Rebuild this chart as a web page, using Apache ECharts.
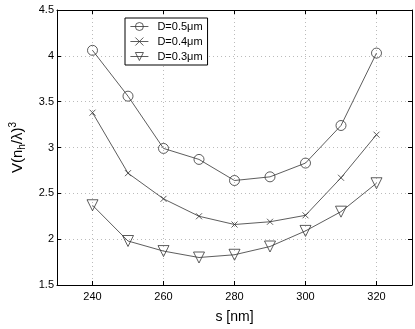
<!DOCTYPE html>
<html><head><meta charset="utf-8">
<script src="https://cdn.jsdelivr.net/npm/echarts@6/dist/echarts.min.js"></script>
<style>html,body{margin:0;padding:0;background:#fff}#c{width:415px;height:329px}</style>
</head><body><div id="c"></div>
<script>
const sValues = [240, 250, 260, 270, 280, 290, 300, 310, 320];
const d05 = [4.06, 3.56, 2.99, 2.87, 2.64, 2.68, 2.83, 3.24, 4.03];
const d04 = [3.38, 2.72, 2.44, 2.25, 2.16, 2.19, 2.26, 2.67, 3.14];
const d03 = [2.37, 1.98, 1.87, 1.80, 1.83, 1.92, 2.09, 2.30, 2.61];
const xTicks = [240, 260, 280, 300, 320];
const seriesNames = ['D=0.5\u03bcm', 'D=0.4\u03bcm', 'D=0.3\u03bcm'];

const font = 'Liberation Sans, Arial, Helvetica, sans-serif';
const pair = a => a.map((v, i) => [sValues[i], v]);
const crossPath = 'path://M0,0L10,10M10,0L0,10';
const mk = (name, data, symbol, size, rot) => ({
  name, type: 'line', data: pair(data), symbol, symbolSize: size, symbolRotate: rot || 0,
  showAllSymbol: true,
  lineStyle: { color: '#333', width: 0.8 },
  itemStyle: { color: 'rgba(0,0,0,0)', borderColor: '#333', borderWidth: 0.8 },
  emphasis: { disabled: true }, animation: false
});
const chart = echarts.init(document.getElementById('c'));
const axisCommon = {
  axisLine: { show: true, lineStyle: { color: '#000', width: 1 } },
  axisTick: { show: true, inside: true, length: 4, lineStyle: { color: '#000' } }
};
chart.setOption({
  animation: false,
  backgroundColor: '#fff',
  grid: { left: 50, right: 3, top: 10, bottom: 34, show: false },
  legend: {
    data: seriesNames, orient: 'vertical', left: 125, top: 18,
    itemWidth: 18, itemHeight: 10, itemGap: 2, padding: [2, 5, 2, 5],
    borderColor: '#000', borderWidth: 1, backgroundColor: '#fff',
    itemStyle: { color: 'rgba(0,0,0,0)', borderColor: '#333', borderWidth: 0.8 },
    lineStyle: { color: '#333', width: 0.8 },
    textStyle: { fontFamily: font, fontSize: 11, color: '#000', padding: [0, 0, 0, 4], lineHeight: 13 }
  },
  xAxis: [{
    type: 'value', min: 230, max: 330, position: 'bottom',
    axisLine: axisCommon.axisLine,
    axisTick: { ...axisCommon.axisTick, customValues: xTicks },
    axisLabel: { fontFamily: font, fontSize: 11, color: '#000', margin: 6, customValues: xTicks },
    splitLine: { show: true, lineStyle: { color: '#bbb', type: [1, 3], width: 1 } },
    name: 's [nm]', nameLocation: 'middle', nameGap: 25,
    nameTextStyle: { fontFamily: font, fontSize: 14, color: '#000' }
  }, {
    type: 'value', min: 230, max: 330, position: 'top',
    axisLine: axisCommon.axisLine,
    axisTick: { ...axisCommon.axisTick, customValues: xTicks },
    axisLabel: { show: false, customValues: xTicks }, splitLine: { show: false }
  }],
  yAxis: [{
    type: 'value', min: 1.5, max: 4.5, interval: 0.5, position: 'left',
    ...axisCommon,
    axisLabel: { fontFamily: font, fontSize: 11, color: '#000', margin: 3 },
    splitLine: { show: true, lineStyle: { color: '#bbb', type: [1, 3], width: 1 } },
    name: '{a|V(n}{s|h}{a|/\u03bb)}{p|3}', nameLocation: 'middle', nameGap: 30,
    nameTextStyle: {
      fontFamily: font, color: '#000',
      rich: {
        a: { fontFamily: font, fontSize: 15, color: '#000' },
        s: { fontFamily: font, fontSize: 10, color: '#000', verticalAlign: 'bottom', padding: [9, 0, 0, 0] },
        p: { fontFamily: font, fontSize: 10, color: '#000', verticalAlign: 'top', padding: [0, 0, 9, 0] }
      }
    }
  }, {
    type: 'value', min: 1.5, max: 4.5, interval: 0.5, position: 'right',
    ...axisCommon, axisLabel: { show: false }, splitLine: { show: false }
  }],
  series: [
    mk(seriesNames[0], d05, 'circle', 10),
    mk(seriesNames[1], d04, crossPath, 6),
    mk(seriesNames[2], d03, 'triangle', 11, 180)
  ]
});
</script></body></html>
